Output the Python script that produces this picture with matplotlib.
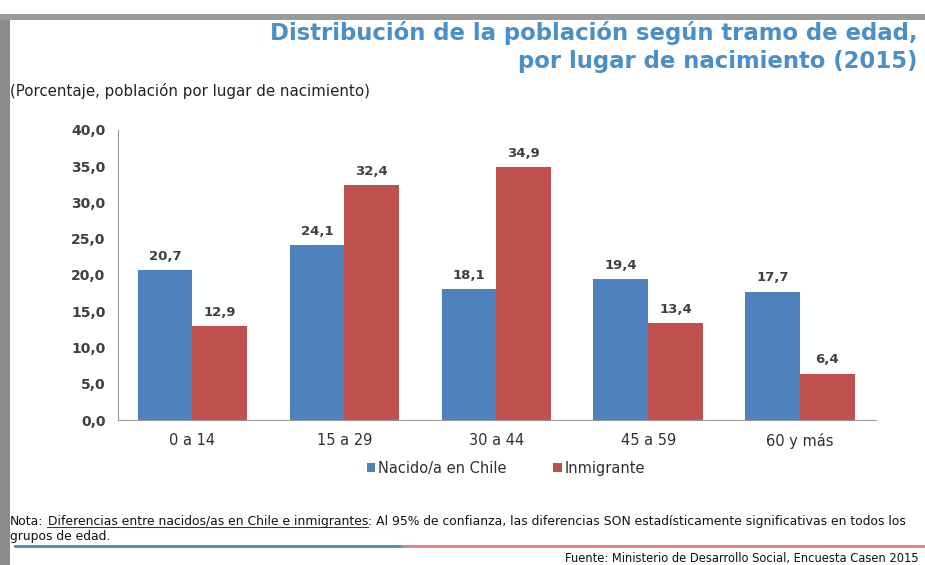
import matplotlib
matplotlib.use('Agg')
import matplotlib.pyplot as plt
import numpy as np
from matplotlib.patches import Rectangle
from matplotlib.lines import Line2D

# 数据
categorias = ['0 a 14', '15 a 29', '30 a 44', '45 a 59', '60 y más']
nacido_chile = [20.7, 24.1, 18.1, 19.4, 17.7]
inmigrante = [12.9, 32.4, 34.9, 13.4, 6.4]
y_ticks = [0, 5, 10, 15, 20, 25, 30, 35, 40]

azul = '#4F81BD'
rojo = '#C0504D'
gris = '#404040'

plt.rcParams['font.family'] = ['DejaVu Sans']

fig = plt.figure(figsize=(9.25, 5.65), dpi=100)
fig.patch.set_facecolor('white')

# 边框阴影
fig.patches.append(Rectangle((0.0, 0.0), 0.011, 0.975, transform=fig.transFigure,
                             facecolor='#8c8c8c', edgecolor='none'))
fig.patches.append(Rectangle((0.0, 0.965), 1.0, 0.01, transform=fig.transFigure,
                             facecolor='#9a9a9a', edgecolor='none'))

ax = fig.add_axes([0.1276, 0.2566, 0.8194, 0.5134])
x = np.arange(len(categorias))
w = 0.36
b1 = ax.bar(x - w / 2, nacido_chile, w, color=azul, label='Nacido/a en Chile')
b2 = ax.bar(x + w / 2, inmigrante, w, color=rojo, label='Inmigrante')

for bars, vals in [(b1, nacido_chile), (b2, inmigrante)]:
    for r, v in zip(bars, vals):
        ax.text(r.get_x() + r.get_width() / 2, v + 1.0, f'{v:.1f}'.replace('.', ','),
                ha='center', va='bottom', fontsize=9.5, fontweight='bold', color=gris)

ax.set_xlim(-0.49, 4.5)
ax.set_ylim(0, 40)
ax.set_yticks(y_ticks)
ax.set_yticklabels([f'{t:.1f}'.replace('.', ',') for t in y_ticks], fontsize=10,
                   fontweight='bold', color=gris)
ax.set_xticks(x)
ax.set_xticklabels(categorias, fontsize=10.5, color='#303030')
ax.tick_params(axis='y', length=0, pad=9)
ax.tick_params(axis='x', length=0, pad=9)
for s in ['top', 'right']:
    ax.spines[s].set_visible(False)
ax.spines['left'].set_color('#999999')
ax.spines['bottom'].set_color('#999999')

leg = ax.legend(loc='upper center', bbox_to_anchor=(0.512, -0.095), ncol=2, frameon=False,
                fontsize=10.5, handlelength=0.6, handleheight=0.6, handletextpad=0.2,
                columnspacing=3.2)
for t in leg.get_texts():
    t.set_color('#303030')

# 标题
fig.text(0.992, 0.929, 'Distribución de la población según tramo de edad,',
         ha='right', va='baseline', fontsize=16.4, fontweight='bold', color='#4A8FC7')
fig.text(0.992, 0.880, 'por lugar de nacimiento (2015)',
         ha='right', va='baseline', fontsize=16.4, fontweight='bold', color='#4A8FC7')
fig.text(0.011, 0.830, '(Porcentaje, población por lugar de nacimiento)',
         ha='left', va='baseline', fontsize=10.8, color='#222222')

# 注释
renderer = fig.canvas.get_renderer()
y_nota = 0.071
fs_nota = 8.95
t1 = fig.text(0.011, y_nota, 'Nota:', fontsize=fs_nota, color='#111111', va='baseline')
bb = t1.get_window_extent(renderer).transformed(fig.transFigure.inverted())
t2 = fig.text(bb.x1, y_nota, ' Diferencias entre nacidos/as en Chile e inmigrantes',
              fontsize=fs_nota, color='#111111', va='baseline')
bb2 = t2.get_window_extent(renderer).transformed(fig.transFigure.inverted())
fig.lines.append(Line2D([bb2.x0 + 0.004, bb2.x1], [y_nota - 0.004, y_nota - 0.004],
                        transform=fig.transFigure, color='#111111', lw=0.6))
fig.text(bb2.x1, y_nota, ': Al 95% de confianza, las diferencias SON estadísticamente '
         'significativas en todos los',
         fontsize=fs_nota, color='#111111', va='baseline')
fig.text(0.011, y_nota - 0.027, 'grupos de edad.', fontsize=fs_nota, color='#111111',
         va='baseline')

fig.lines.append(Line2D([0.016, 0.435], [0.034, 0.034], transform=fig.transFigure,
                        color='#4F81BD', lw=2))
fig.lines.append(Line2D([0.435, 1.0], [0.034, 0.034], transform=fig.transFigure,
                        color='#E07E80', lw=2))
fig.text(0.993, 0.006, 'Fuente: Ministerio de Desarrollo Social, Encuesta Casen 2015',
         ha='right', va='baseline', fontsize=8.3, color='#111111')

plt.savefig('out.png', dpi=100)
plt.close()
